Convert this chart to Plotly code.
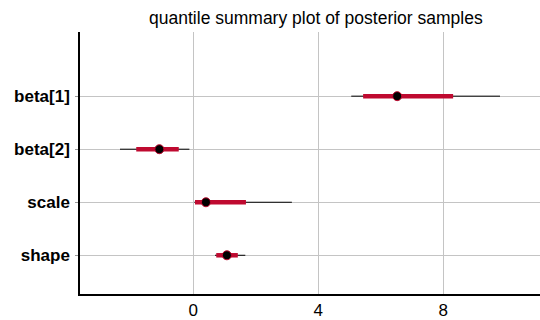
import plotly.graph_objects as go

params = ["beta[1]", "beta[2]", "scale", "shape"]
q_low = [5.06, -2.34, 0.04, 0.70]
q_25 = [5.44, -1.82, 0.06, 0.74]
q_50 = [6.53, -1.08, 0.41, 1.08]
q_75 = [8.32, -0.46, 1.69, 1.43]
q_high = [9.82, -0.12, 3.16, 1.67]
x_ticks = [0, 4, 8]

ypos = [len(params) - i for i in range(len(params))]
red = "#bf0a30"

fig = go.Figure()
for i, p in enumerate(params):
    fig.add_trace(go.Scatter(x=[q_low[i], q_high[i]], y=[ypos[i], ypos[i]], mode="lines",
                             line=dict(color="black", width=1), hoverinfo="skip", showlegend=False))
    fig.add_trace(go.Scatter(x=[q_25[i], q_75[i]], y=[ypos[i], ypos[i]], mode="lines",
                             line=dict(color=red, width=4.5), hoverinfo="skip", showlegend=False))
fig.add_trace(go.Scatter(x=q_50, y=ypos, mode="markers",
                         marker=dict(color="black", size=9, line=dict(color=red, width=1)),
                         text=params, showlegend=False))

fig.update_layout(
    width=540, height=320,
    margin=dict(l=80, r=0, t=32, b=24),
    paper_bgcolor="white", plot_bgcolor="white",
    title=dict(text="quantile summary plot of posterior samples", x=0.585, xanchor="center",
               xref="container", y=0.945, yanchor="middle",
               font=dict(family="Liberation Sans", size=17.5, color="black")),
    xaxis=dict(range=[-3.62, 11.1], tickvals=x_ticks, ticktext=[str(t) for t in x_ticks],
               showgrid=True, gridcolor="#c4c4c4", gridwidth=1, zeroline=False,
               showline=True, linecolor="black", linewidth=1.5,
               tickfont=dict(family="Liberation Sans", size=17, color="black"), ticks="",
               ticklabelstandoff=0),
    yaxis=dict(range=[0.27, 5.21], tickvals=ypos, ticktext=params,
               showgrid=True, gridcolor="#c4c4c4", gridwidth=1, zeroline=False,
               showline=True, linecolor="black", linewidth=1.5,
               ticks="outside", ticklen=3, tickcolor="#999999",
               tickfont=dict(family="Liberation Sans", size=17, color="black", weight="bold"),
               ticklabelstandoff=2),
)
fig.write_html("out.html")
